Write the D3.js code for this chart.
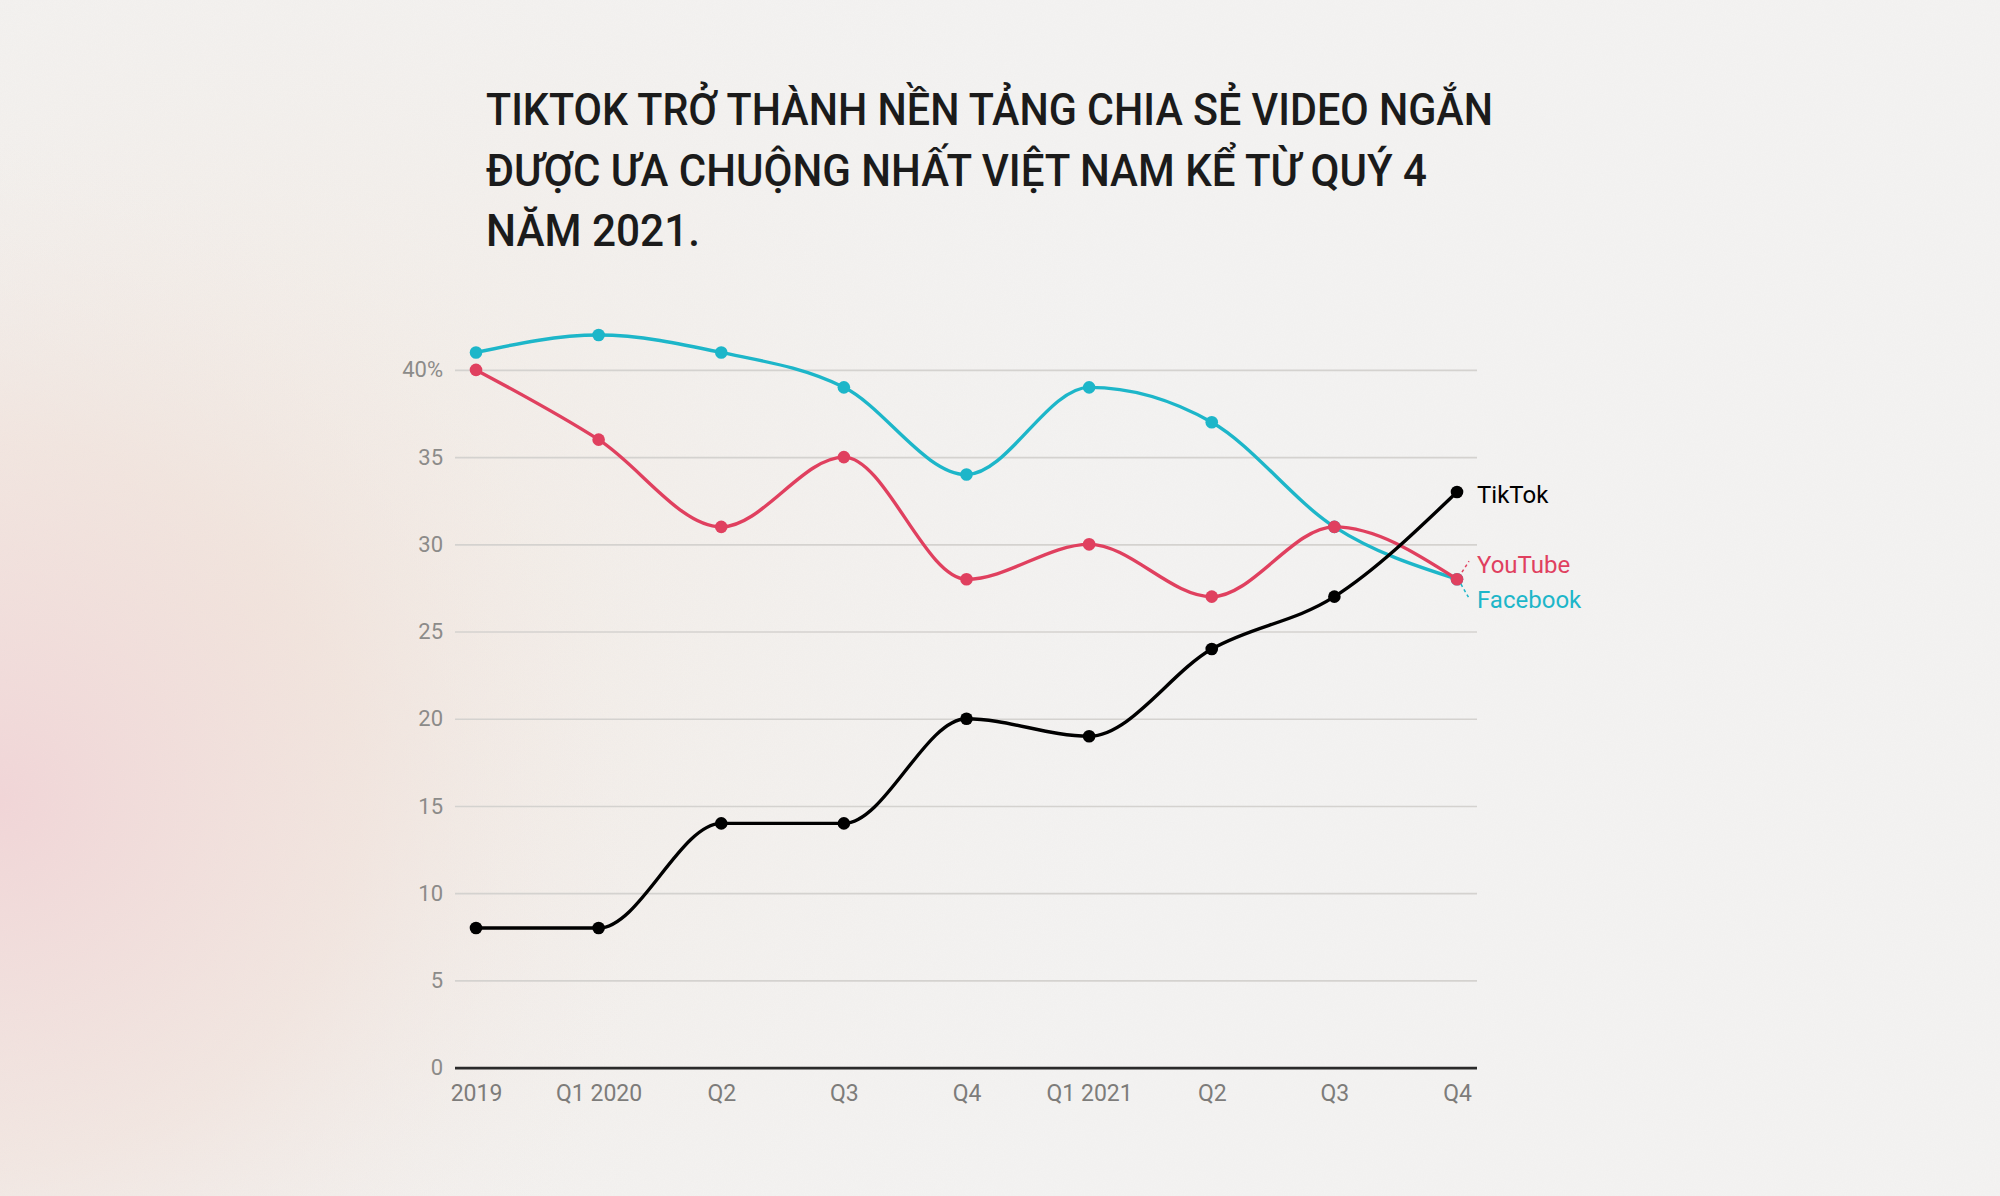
<!DOCTYPE html>
<html>
<head>
<meta charset="utf-8">
<script src="https://cdn.jsdelivr.net/npm/d3@7"></script>
<style>
  html, body { margin: 0; padding: 0; background: #f3f2f0; }
  svg { display: block; }
</style>
</head>
<body>
<svg id="chart" width="2000" height="1196"></svg>
<script>
// data
var quarters = ["2019", "Q1 2020", "Q2", "Q3", "Q4", "Q1 2021", "Q2", "Q3", "Q4"];
var facebook = [41, 42, 41, 39, 34, 39, 37, 31, 28];
var youtube  = [40, 36, 31, 35, 28, 30, 27, 31, 28];
var tiktok   = [8, 8, 14, 14, 20, 19, 24, 27, 33];
var yTicks   = [0, 5, 10, 15, 20, 25, 30, 35, 40];
var titleLines = [
  "TIKTOK TRỞ THÀNH NỀN TẢNG CHIA SẺ VIDEO NGẮN",
  "ĐƯỢC ƯA CHUỘNG NHẤT VIỆT NAM KỂ TỪ QUÝ 4",
  "NĂM 2021."
];

var svg = d3.select("#chart");

// background: off white with a pink / peach glow on the left
var defs = svg.append("defs");
var pink = defs.append("radialGradient").attr("id", "pinkGlow")
  .attr("gradientUnits", "userSpaceOnUse")
  .attr("cx", 0).attr("cy", 800).attr("r", 720);
pink.append("stop").attr("offset", "0%").attr("stop-color", "#f2d6d8").attr("stop-opacity", 1);
pink.append("stop").attr("offset", "50%").attr("stop-color", "#f2e3dd").attr("stop-opacity", 0.7);
pink.append("stop").attr("offset", "100%").attr("stop-color", "#f3f2f0").attr("stop-opacity", 0);

var peach = defs.append("radialGradient").attr("id", "peachGlow")
  .attr("gradientUnits", "userSpaceOnUse")
  .attr("cx", 250).attr("cy", 620).attr("r", 1000);
peach.append("stop").attr("offset", "0%").attr("stop-color", "#f3e7dc").attr("stop-opacity", 0.9);
peach.append("stop").attr("offset", "100%").attr("stop-color", "#f4f3f2").attr("stop-opacity", 0);

var grain = defs.append("filter").attr("id", "grain")
  .attr("x", 0).attr("y", 0).attr("width", "100%").attr("height", "100%");
grain.append("feTurbulence").attr("type", "fractalNoise").attr("baseFrequency", 0.9)
  .attr("numOctaves", 2).attr("stitchTiles", "stitch");
grain.append("feColorMatrix").attr("type", "matrix")
  .attr("values", "0 0 0 0 0.5  0 0 0 0 0.5  0 0 0 0 0.5  0 0 0 0.06 0");

svg.append("rect").attr("width", 2000).attr("height", 1196).attr("fill", "#f4f3f2");
svg.append("rect").attr("width", 2000).attr("height", 1196).attr("fill", "url(#peachGlow)");
svg.append("rect").attr("width", 2000).attr("height", 1196).attr("fill", "url(#pinkGlow)");
svg.append("rect").attr("width", 2000).attr("height", 1196).attr("filter", "url(#grain)");

// title, squeezed to the widths of the reference lines
var titleWidths = [1007, 941, 214];
svg.append("g").selectAll("text")
  .data(titleLines)
  .join("text")
  .attr("x", 486)
  .attr("y", function(d, i){ return 125 + i * 60.5; })
  .attr("font-family", "Roboto, sans-serif")
  .attr("font-weight", 500)
  .attr("font-size", 45)
  .attr("fill", "#1b1b1b")
  .attr("textLength", function(d, i){ return titleWidths[i]; })
  .attr("lengthAdjust", "spacingAndGlyphs")
  .text(function(d){ return d; });

// scales
var gridLeft = 455, gridRight = 1477;
var x = d3.scalePoint().domain(d3.range(quarters.length)).range([476, 1457]);
var y = d3.scaleLinear().domain([0, 40]).range([1067.6, 369.9]);

// y axis with gridlines
var yAxis = svg.append("g")
  .attr("transform", "translate(" + gridLeft + ",0)")
  .call(d3.axisLeft(y)
    .tickValues(yTicks)
    .tickSize(-(gridRight - gridLeft))
    .tickPadding(12)
    .tickFormat(function(d){ return d === 40 ? "40%" : d; }));
yAxis.select(".domain").remove();
yAxis.selectAll(".tick line")
  .attr("stroke", function(d){ return d === 0 ? "#2a2a2a" : "#d4d2cf"; })
  .attr("stroke-width", function(d){ return d === 0 ? 2.6 : 1.6; });
yAxis.selectAll(".tick text")
  .attr("font-family", "Roboto, sans-serif")
  .attr("font-size", 22)
  .attr("fill", "#8c8b89");

// x axis labels
var xAxis = svg.append("g")
  .attr("transform", "translate(0," + y(0) + ")")
  .call(d3.axisBottom(x)
    .tickSize(0)
    .tickPadding(17)
    .tickFormat(function(i){ return quarters[i]; }));
xAxis.select(".domain").remove();
xAxis.selectAll(".tick text")
  .attr("font-family", "Roboto, sans-serif")
  .attr("font-size", 23)
  .attr("fill", "#7d7c7a");

// lines
var series = [
  { name: "Facebook", values: facebook, color: "#1db6c9" },
  { name: "YouTube",  values: youtube,  color: "#e0405f" },
  { name: "TikTok",   values: tiktok,   color: "#000000" }
];

var line = d3.line()
  .x(function(d, i){ return x(i); })
  .y(function(d){ return y(d); })
  .curve(d3.curveMonotoneX);

series.forEach(function(s){
  var g = svg.append("g");
  g.append("path")
    .datum(s.values)
    .attr("fill", "none")
    .attr("stroke", s.color)
    .attr("stroke-width", 3.4)
    .attr("stroke-linejoin", "round")
    .attr("stroke-linecap", "round")
    .attr("d", line);
  g.selectAll("circle")
    .data(s.values)
    .join("circle")
    .attr("cx", function(d, i){ return x(i); })
    .attr("cy", function(d){ return y(d); })
    .attr("r", 6.3)
    .attr("fill", s.color);
});

// end labels
var last = quarters.length - 1;
var labelX = x(last) + 20;

svg.append("text")
  .attr("x", labelX)
  .attr("y", y(tiktok[last]) + 11)
  .attr("font-family", "Roboto, sans-serif")
  .attr("font-size", 24)
  .attr("fill", "#000")
  .text("TikTok");

svg.append("line")
  .attr("x1", x(last) + 5).attr("y1", y(youtube[last]) - 7)
  .attr("x2", x(last) + 12).attr("y2", y(youtube[last]) - 18)
  .attr("stroke", "#e0405f").attr("stroke-width", 1.5).attr("stroke-dasharray", "3,3");
svg.append("text")
  .attr("x", labelX)
  .attr("y", y(youtube[last]) - 6)
  .attr("font-family", "Roboto, sans-serif")
  .attr("font-size", 24)
  .attr("fill", "#e0405f")
  .text("YouTube");

svg.append("line")
  .attr("x1", x(last) + 4).attr("y1", y(facebook[last]) + 5)
  .attr("x2", x(last) + 12).attr("y2", y(facebook[last]) + 19)
  .attr("stroke", "#1db6c9").attr("stroke-width", 1.5).attr("stroke-dasharray", "3,3");
svg.append("text")
  .attr("x", labelX)
  .attr("y", y(facebook[last]) + 29)
  .attr("font-family", "Roboto, sans-serif")
  .attr("font-size", 24)
  .attr("fill", "#1db6c9")
  .text("Facebook");
</script>
</body>
</html>
